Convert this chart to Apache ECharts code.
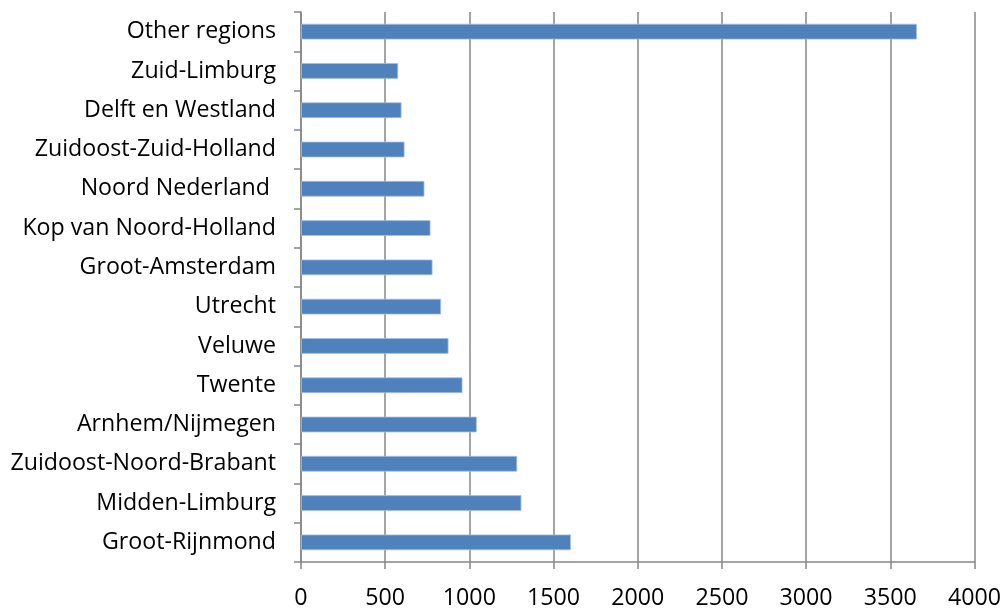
<!DOCTYPE html>
<html><head><meta charset="utf-8">
<script src="https://cdn.jsdelivr.net/npm/echarts@6/dist/echarts.min.js"></script>
<style>html,body{margin:0;padding:0;background:#fff}#c{width:1004px;height:610px}</style>
</head><body><div id="c"></div>
<script>
const categories = ["Groot-Rijnmond","Midden-Limburg","Zuidoost-Noord-Brabant","Arnhem/Nijmegen","Twente","Veluwe","Utrecht","Groot-Amsterdam","Kop van Noord-Holland","Noord Nederland ","Zuidoost-Zuid-Holland","Delft en Westland","Zuid-Limburg","Other regions"];
const values = [1603,1309,1284,1044,959,876,832,781,769,733,615,597,577,3658];
const xTicks = {min:0,max:4000,interval:500};

const chart = echarts.init(document.getElementById('c'));
const font = "'Open Sans', 'Liberation Sans', sans-serif";
chart.setOption({
  animation:false,
  grid:{left:301,right:29,top:12,bottom:44,containLabel:false},
  xAxis:{type:'value',min:xTicks.min,max:xTicks.max,interval:xTicks.interval,
    axisLine:{show:true,lineStyle:{color:'#868686',width:1.5}},
    axisTick:{show:true,length:7,lineStyle:{color:'#868686',width:1.5}},
    splitLine:{show:true,lineStyle:{color:'#868686',width:1.5}},
    axisLabel:{color:'#000',fontSize:23.2,fontFamily:font,margin:25,formatter:v=>String(v)}},
  yAxis:{type:'category',data:categories,
    axisLine:{show:true,lineStyle:{color:'#868686',width:1.5}},
    axisTick:{show:true,length:7,alignWithLabel:false,lineStyle:{color:'#868686',width:1.5}},
    axisLabel:{color:'#000',fontSize:23.2,fontFamily:font,margin:25}},
  series:[{type:'bar',data:values,barCategoryGap:'60%',
    itemStyle:{color:'#4F81BD',borderColor:'#A7C0DE',borderWidth:0.8}}]
});
</script></body></html>
